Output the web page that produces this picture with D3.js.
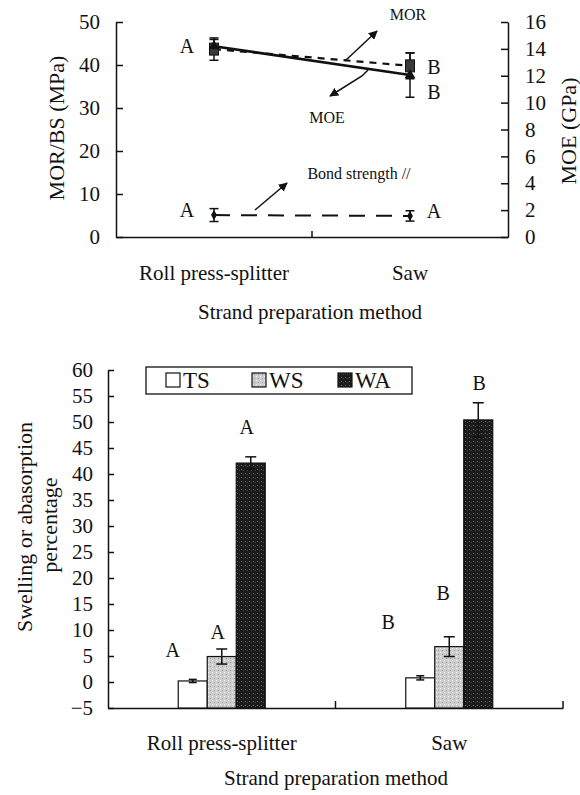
<!DOCTYPE html>
<html>
<head>
<meta charset="utf-8">
<script src="https://cdn.jsdelivr.net/npm/d3@7"></script>
<style>
  body { margin: 0; background: #fff; }
</style>
</head>
<body>
<svg id="chart" width="580" height="795" font-family="'Liberation Serif', 'DejaVu Serif', serif"></svg>
<script>
const methods = ["Roll press-splitter", "Saw"];

// top panel: MOR and bond strength (MPa), MOE (GPa)
const mor = [43.7, 39.8];
const morErr = [2.6, 3.0];
const moe = [14.2, 12.05];
const moeErr = [0.5, 1.65];
const bond = [5.1, 4.9];
const bondErr = [1.5, 1.2];
const morLetters = ["A", "B"];
const moeLetters = ["", "B"];
const bondLetters = ["A", "A"];
const leftTicks = [0, 10, 20, 30, 40, 50];
const rightTicks = [0, 2, 4, 6, 8, 10, 12, 14, 16];

// bottom panel: swelling / absorption (%)
const props = ["TS", "WS", "WA"];
const tsVals = [0.2, 0.8];
const tsErr = [0.3, 0.4];
const wsVals = [4.9, 6.8];
const wsErr = [1.45, 1.9];
const waVals = [42.1, 50.4];
const waErr = [1.2, 3.3];
const tsLetters = ["A", "B"];
const wsLetters = ["A", "B"];
const waLetters = ["A", "B"];
// where the letters sit, in % units
const tsLetterAt = [6.2, 11.5];
const wsLetterAt = [9.6, 17.1];
const waLetterAt = [49, 57.5];
const bottomTicks = [-5, 0, 5, 10, 15, 20, 25, 30, 35, 40, 45, 50, 55, 60];

const serif = "'Liberation Serif', 'DejaVu Serif', serif";
const svg = d3.select("#chart");
const ink = "#111";

// fill patterns for the bars
const defs = svg.append("defs");
const pWS = defs.append("pattern").attr("id", "pWS").attr("width", 4).attr("height", 4)
  .attr("patternUnits", "userSpaceOnUse");
pWS.append("rect").attr("width", 4).attr("height", 4).attr("fill", "#cdcdcd");
pWS.append("rect").attr("x", 0).attr("y", 0).attr("width", 1).attr("height", 1).attr("fill", "#f2f2f2");
pWS.append("rect").attr("x", 2).attr("y", 2).attr("width", 1).attr("height", 1).attr("fill", "#9a9a9a");
const pWA = defs.append("pattern").attr("id", "pWA").attr("width", 4).attr("height", 4)
  .attr("patternUnits", "userSpaceOnUse");
pWA.append("rect").attr("width", 4).attr("height", 4).attr("fill", "#1b1b1b");
pWA.append("rect").attr("x", 1).attr("y", 1).attr("width", 1).attr("height", 1).attr("fill", "#6e6e6e");
pWA.append("rect").attr("x", 3).attr("y", 2).attr("width", 1).attr("height", 1).attr("fill", "#4a4a4a");

defs.append("marker").attr("id", "arrow").attr("viewBox", "0 0 10 10")
  .attr("refX", 9).attr("refY", 5).attr("markerWidth", 9).attr("markerHeight", 9)
  .attr("markerUnits", "userSpaceOnUse").attr("orient", "auto")
  .append("path").attr("d", "M0,0L10,5L0,10z").attr("fill", ink);

function styleAxis(g, size) {
  g.attr("font-family", serif).attr("font-size", size).attr("color", ink);
  g.selectAll("text").attr("fill", ink);
  g.selectAll("path, line").attr("stroke-width", 1.5);
}
function label(g, size) {
  return g.append("text").attr("font-family", serif).attr("font-size", size).attr("fill", ink);
}

// ---------------- top panel ----------------
const xTop = d3.scaleBand().domain(methods).range([116, 508]);
const yL = d3.scaleLinear().domain([0, 50]).range([237, 22]);
const yR = d3.scaleLinear().domain([0, 16]).range([237, 22]);
const cx = m => xTop(m) + xTop.bandwidth() / 2;

const topG = svg.append("g");

topG.append("g").attr("transform", "translate(116,0)")
  .call(d3.axisLeft(yL).tickValues(leftTicks).tickSize(-7).tickSizeOuter(0).tickPadding(16))
  .call(g => styleAxis(g, 21));
topG.append("g").attr("transform", "translate(508,0)")
  .call(d3.axisRight(yR).tickValues(rightTicks).tickSize(-7).tickSizeOuter(0).tickPadding(17))
  .call(g => styleAxis(g, 21));
topG.append("g").attr("transform", "translate(0,237)")
  .call(d3.axisBottom(xTop).tickSize(0).tickPadding(28))
  .call(g => styleAxis(g, 21));
topG.append("line").attr("x1", xTop("Saw")).attr("x2", xTop("Saw"))
  .attr("y1", 237).attr("y2", 231).attr("stroke", ink).attr("stroke-width", 1.5);

label(topG, 22).attr("transform", "translate(64,128) rotate(-90)")
  .attr("text-anchor", "middle").text("MOR/BS (MPa)");
label(topG, 22).attr("transform", "translate(576,131) rotate(-90)")
  .attr("text-anchor", "middle").text("MOE (GPa)");
label(topG, 21).attr("x", 310).attr("y", 319)
  .attr("text-anchor", "middle").text("Strand preparation method");

const line = y => d3.line().x((d, i) => cx(methods[i])).y(d => y(d));

topG.append("path").datum(bond).attr("d", line(yL)).attr("fill", "none")
  .attr("stroke", ink).attr("stroke-width", 2).attr("stroke-dasharray", "16,11");
topG.append("path").datum(mor).attr("d", line(yL)).attr("fill", "none")
  .attr("stroke", ink).attr("stroke-width", 2.2).attr("stroke-dasharray", "7,6");
topG.append("path").datum(moe).attr("d", line(yR)).attr("fill", "none")
  .attr("stroke", ink).attr("stroke-width", 2.6);

function errBars(g, vals, errs, y, xs, cap) {
  vals.forEach((v, i) => {
    const x = xs(i);
    g.append("line").attr("x1", x).attr("x2", x).attr("y1", y(v - errs[i])).attr("y2", y(v + errs[i]))
      .attr("stroke", ink).attr("stroke-width", 1.5);
    [v - errs[i], v + errs[i]].forEach(e => {
      g.append("line").attr("x1", x - cap / 2).attr("x2", x + cap / 2).attr("y1", y(e)).attr("y2", y(e))
        .attr("stroke", ink).attr("stroke-width", 1.5);
    });
  });
}
const topX = i => cx(methods[i]);
errBars(topG, mor, morErr, yL, topX, 9);
errBars(topG, moe, moeErr, yR, topX, 9);
errBars(topG, bond, bondErr, yL, topX, 9);

// markers
topG.selectAll(".sq").data(mor).enter().append("rect")
  .attr("x", (d, i) => topX(i) - 4.5).attr("y", d => yL(d) - 6)
  .attr("width", 9).attr("height", 12).attr("fill", "#3a3a3a").attr("stroke", ink);
topG.selectAll(".tri").data(moe).enter().append("path")
  .attr("d", d3.symbol(d3.symbolTriangle, 50))
  .attr("transform", (d, i) => `translate(${topX(i)},${yR(d)})`).attr("fill", ink);
topG.selectAll(".dia").data(bond).enter().append("path")
  .attr("d", d3.symbol(d3.symbolDiamond, 30))
  .attr("transform", (d, i) => `translate(${topX(i)},${yL(d)})`).attr("fill", ink);

// significance letters
const letterX = i => topX(i) + (i === 0 ? -27 : 24);
function topLetters(vals, letters, y, dy) {
  topG.selectAll(null).data(vals).enter().append("text")
    .attr("font-family", serif).attr("font-size", 20).attr("fill", ink)
    .attr("x", (d, i) => letterX(i)).attr("y", (d, i) => y(d) + dy[i])
    .attr("text-anchor", "middle").attr("dominant-baseline", "central")
    .text((d, i) => letters[i]);
}
topLetters(mor, morLetters, yL, [-3, 1]);
topLetters(moe, moeLetters, yR, [0, 17]);
topLetters(bond, bondLetters, yL, [-5, -5]);

// annotations
label(topG, 16).attr("x", 408).attr("y", 20).attr("text-anchor", "middle").text("MOR");
topG.append("path").attr("d", "M345,61L377,31").attr("stroke", ink).attr("stroke-width", 1.5)
  .attr("fill", "none").attr("marker-end", "url(#arrow)");
label(topG, 16).attr("x", 327).attr("y", 123).attr("text-anchor", "middle").text("MOE");
topG.append("path").attr("d", "M368,70L362,76L330,96").attr("stroke", ink).attr("stroke-width", 1.5)
  .attr("fill", "none").attr("marker-end", "url(#arrow)");
label(topG, 16).attr("x", 359).attr("y", 179).attr("text-anchor", "middle").text("Bond strength //");
topG.append("path").attr("d", "M255,210L287,183").attr("stroke", ink).attr("stroke-width", 1.5)
  .attr("fill", "none").attr("marker-end", "url(#arrow)");

// ---------------- bottom panel ----------------
const xB = d3.scaleBand().domain(methods).range([108, 563]);
const xS = d3.scaleBand().domain(props).range([0, 87]);
const yB = d3.scaleLinear().domain([-5, 60]).range([708, 370]);
const groupX = m => xB(m) + xB.bandwidth() / 2 - 43.5;

const bot = svg.append("g");

bot.append("g").attr("transform", "translate(108,0)")
  .call(d3.axisLeft(yB).tickValues(bottomTicks).tickSize(-6).tickSizeOuter(0).tickPadding(15))
  .call(g => styleAxis(g, 21));
bot.append("g").attr("transform", "translate(0,708)")
  .call(d3.axisBottom(xB).tickSize(0).tickPadding(27))
  .call(g => styleAxis(g, 21));
[xB("Saw"), 563].forEach(x => bot.append("line").attr("x1", x).attr("x2", x)
  .attr("y1", 708).attr("y2", 701).attr("stroke", ink).attr("stroke-width", 1.5));

label(bot, 22).attr("transform", "translate(32,527) rotate(-90)")
  .attr("text-anchor", "middle").text("Swelling or abasorption");
label(bot, 22).attr("transform", "translate(57,525) rotate(-90)")
  .attr("text-anchor", "middle").text("percentage");
label(bot, 21).attr("x", 336).attr("y", 785)
  .attr("text-anchor", "middle").text("Strand preparation method");

const series = [
  { key: "TS", vals: tsVals, err: tsErr, letters: tsLetters, at: tsLetterAt, fill: "#fff", dx: [-20, -32], cap: 8 },
  { key: "WS", vals: wsVals, err: wsErr, letters: wsLetters, at: wsLetterAt, fill: "url(#pWS)", dx: [-4, -6], cap: 11 },
  { key: "WA", vals: waVals, err: waErr, letters: waLetters, at: waLetterAt, fill: "url(#pWA)", dx: [-4, 1], cap: 11 }
];

series.forEach(s => {
  const bx = i => groupX(methods[i]) + xS(s.key);
  bot.selectAll(null).data(s.vals).enter().append("rect")
    .attr("x", (d, i) => bx(i)).attr("width", xS.bandwidth())
    .attr("y", d => yB(d)).attr("height", d => yB(-5) - yB(d))
    .attr("fill", s.fill).attr("stroke", ink).attr("stroke-width", 1.2);
  errBars(bot, s.vals, s.err, yB, i => bx(i) + xS.bandwidth() / 2, s.cap);
  bot.selectAll(null).data(s.at).enter().append("text")
    .attr("font-family", serif).attr("font-size", 20).attr("fill", ink)
    .attr("x", (d, i) => bx(i) + xS.bandwidth() / 2 + s.dx[i]).attr("y", d => yB(d))
    .attr("text-anchor", "middle").attr("dominant-baseline", "central")
    .text((d, i) => s.letters[i]);
});

// legend
const leg = bot.append("g");
leg.append("rect").attr("x", 146).attr("y", 367).attr("width", 266).attr("height", 27)
  .attr("fill", "#fff").attr("stroke", ink).attr("stroke-width", 1.3);
const legX = d3.scalePoint().domain(props).range([166, 338]);
series.forEach(s => {
  leg.append("rect").attr("x", legX(s.key)).attr("y", 373).attr("width", 14).attr("height", 14)
    .attr("fill", s.fill).attr("stroke", ink).attr("stroke-width", 1.2);
  label(leg, 23).attr("x", legX(s.key) + 17).attr("y", 388).text(s.key);
});
</script>
</body>
</html>
